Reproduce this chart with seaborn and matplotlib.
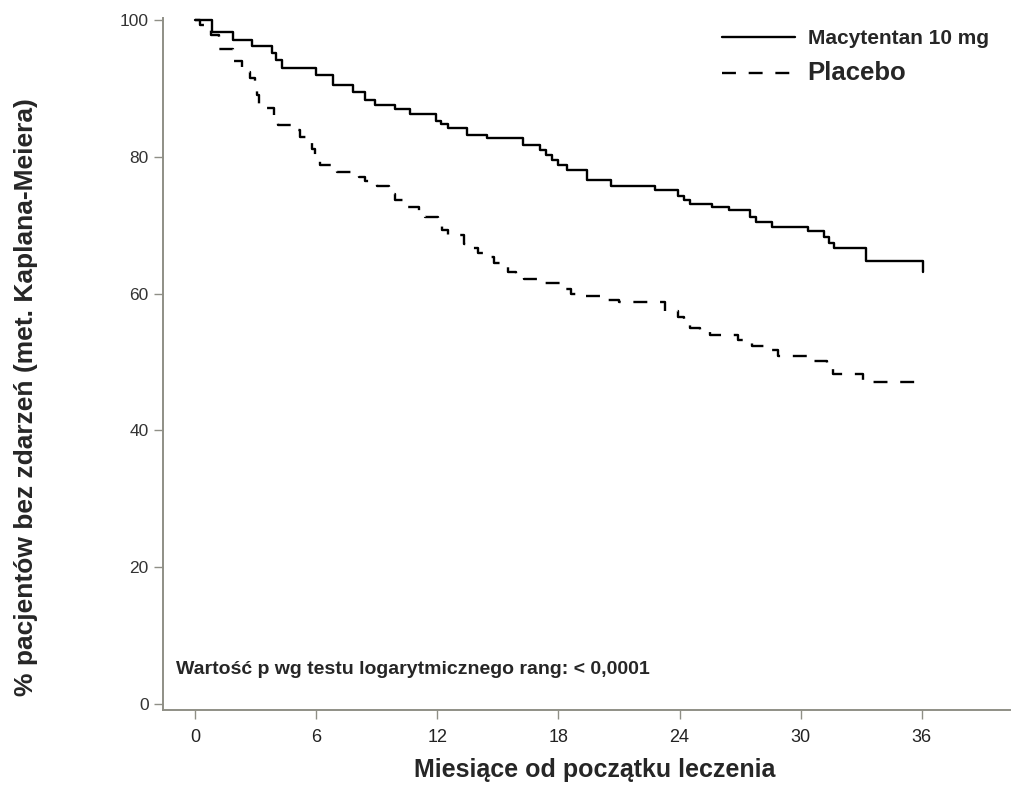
"""Kaplan-Meier curves: Macytentan 10 mg vs placebo."""

import numpy as np
import pandas as pd
import matplotlib
matplotlib.use("Agg")
import matplotlib.pyplot as plt
from matplotlib.lines import Line2D
import seaborn as sns

# Step change points (months, % event-free)
macitentan_t = [0, 0.85, 1.85, 2.8, 3.8, 4.0, 4.3, 6.0, 6.85, 7.8, 8.4, 8.9, 9.9, 10.65,
                11.95, 12.2, 12.5, 13.45, 14.45, 16.25, 17.1, 17.4, 17.7, 18.0, 18.4,
                19.4, 20.6, 22.8, 23.9, 24.2, 24.5, 25.6, 26.45, 27.5, 27.8, 28.6,
                30.35, 31.15, 31.4, 31.65, 33.25, 36.05]
macitentan_s = [100, 98.3, 97.1, 96.2, 95.2, 94.2, 93.0, 92.0, 90.5, 89.5, 88.3, 87.6, 87.0, 86.3,
                85.2, 84.8, 84.2, 83.2, 82.7, 81.8, 81.0, 80.3, 79.5, 78.8, 78.1,
                76.6, 75.8, 75.2, 74.3, 73.7, 73.1, 72.7, 72.2, 71.2, 70.5, 69.8,
                69.2, 68.3, 67.4, 66.6, 64.7, 63.2]

placebo_t = [0, 0.25, 0.8, 1.2, 1.85, 2.3, 2.7, 2.95, 3.05, 3.15, 3.9, 4.1, 4.8, 5.2, 5.5,
             5.8, 5.95, 6.2, 7.0, 8.1, 8.4, 9.0, 9.6, 9.9, 10.3, 11.1, 11.4, 12.05, 12.25,
             12.5, 13.3, 13.7, 14.0, 14.4, 14.8, 15.2, 15.5, 15.9, 16.3, 17.2, 18.2, 18.6,
             19.1, 20.1, 21.0, 23.3, 23.9, 24.2, 24.5, 25.0, 25.5, 26.9, 27.2, 27.6, 28.6,
             28.9, 30.4, 31.3, 31.6, 33.1, 35.9]
placebo_s = [100, 99.3, 97.8, 95.8, 94.0, 92.4, 91.5, 90.3, 89.0, 87.2, 86.0, 84.7, 83.9, 82.9, 82.2,
             81.2, 79.9, 78.8, 77.8, 77.0, 76.4, 75.8, 74.5, 73.7, 72.7, 71.8, 71.2, 70.2, 69.3,
             68.6, 67.2, 66.7, 66.0, 65.4, 64.5, 64.1, 63.2, 62.5, 62.2, 61.5, 60.6, 59.9,
             59.6, 59.1, 58.7, 57.5, 56.6, 55.8, 55.0, 54.5, 54.0, 53.2, 52.8, 52.3, 51.8,
             50.8, 50.2, 49.3, 48.3, 47.0, 47.0]

groups = ["Macytentan 10 mg", "Placebo"]
x_ticks = [0, 6, 12, 18, 24, 30, 36]
y_ticks = [0, 20, 40, 60, 80, 100]
p_text = "Wartość p wg testu logarytmicznego rang: < 0,0001"

df = pd.DataFrame({
    "Miesiace": macitentan_t + placebo_t,
    "Procent": macitentan_s + placebo_s,
    "Grupa": [groups[0]] * len(macitentan_t) + [groups[1]] * len(placebo_t),
})

sns.set_style("white")
plt.rcParams["font.family"] = ["Liberation Sans", "DejaVu Sans"]

spine_col = "#8f8f86"
dash = (5.9, 5.4)

fig = plt.figure(figsize=(10.14, 7.85), dpi=100)
ax = fig.add_axes([0.161, 0.095, 0.835, 0.882])

sns.lineplot(data=df, x="Miesiace", y="Procent", hue="Grupa", style="Grupa",
             palette={groups[0]: "black", groups[1]: "black"},
             dashes={groups[0]: "", groups[1]: dash},
             estimator=None, sort=False, drawstyle="steps-post",
             linewidth=1.7, legend=False, ax=ax)

ax.set_xlim(-1.585, 40.37)
ax.set_ylim(-0.98, 100.3)
ax.set_xticks(x_ticks)
ax.set_yticks(y_ticks)
ax.set_xticklabels([str(v) for v in x_ticks], fontsize=13, color="#222222")
ax.set_yticklabels([str(v) for v in y_ticks], fontsize=12.5, color="#333333")

for side in ["top", "right"]:
    ax.spines[side].set_visible(False)
for side in ["left", "bottom"]:
    ax.spines[side].set_color(spine_col)
    ax.spines[side].set_linewidth(1.4)
ax.tick_params(axis="both", which="major", direction="out", length=6.5, width=1.0,
               color=spine_col, left=True, bottom=True)
ax.tick_params(axis="x", pad=7)
ax.tick_params(axis="y", pad=4)

ax.set_xlabel("Miesiące od początku leczenia", fontsize=18, fontweight="bold")
ax.xaxis.set_label_coords(0.51, -0.068)
ax.set_ylabel("% pacjentów bez zdarzeń (met. Kaplana-Meiera)", fontsize=19,
              fontweight="bold")
ax.yaxis.set_label_coords(-0.148, 0.453)

ax.text(-0.95, 5.0, p_text, fontsize=14, fontweight="bold",
        ha="left", va="center")

handles = [Line2D([], [], color="black", linewidth=1.7),
           Line2D([], [], color="black", linewidth=1.7, dashes=dash)]
leg = ax.legend(handles, groups, loc="upper right", bbox_to_anchor=(0.997, 1.011),
                frameon=False, handlelength=3.5, handletextpad=0.6,
                labelspacing=0.62, prop={"weight": "bold", "size": 15})
leg.get_texts()[1].set_fontsize(18.5)

fig.savefig("out.png", dpi=100)
plt.close(fig)
